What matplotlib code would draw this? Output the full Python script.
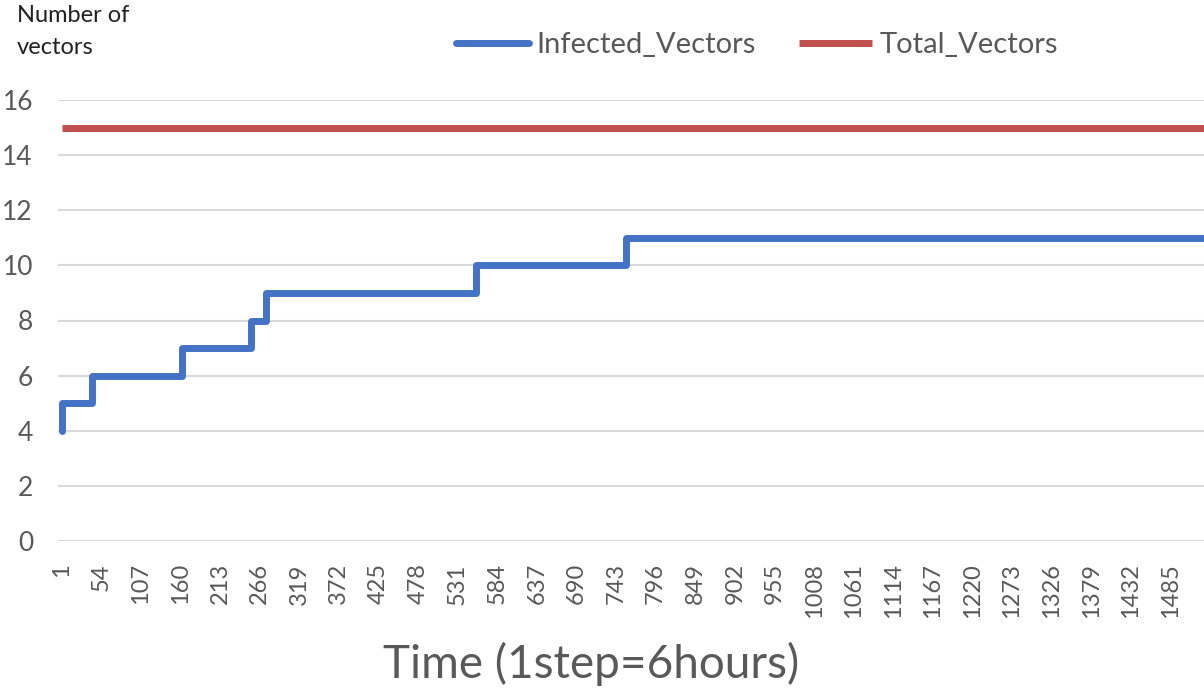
import matplotlib
matplotlib.use("Agg")
import matplotlib.pyplot as plt

# ===============================
# DATA
# ===============================
# time step where the infected count changes, and the new count
change_steps = [1, 2, 42, 162, 254, 275, 556, 756]
infected_levels = [4, 5, 6, 7, 8, 9, 10, 11]
last_step = 1530

total_steps = [1, last_step]
total_vectors = [15, 15]

tick_steps = list(range(1, 1486, 53))   # 1, 54, 107, ... 1485
y_ticks = [0, 2, 4, 6, 8, 10, 12, 14, 16]

BLUE = "#4472C4"
RED = "#C0504D"
TEXT = "#595959"

plt.rcParams["font.family"] = ["Lato", "DejaVu Sans"]

# ===============================
# PLOT
# ===============================
fig = plt.figure(figsize=(12.04, 6.93), dpi=100)
ax = fig.add_axes([58 / 1204, 1 - 541 / 693, (1204 - 58) / 1204, (541 - 100) / 693])

ax.step(change_steps + [last_step], infected_levels + [infected_levels[-1]],
        where="post", color=BLUE, lw=5, solid_capstyle="round",
        solid_joinstyle="round", label="Infected_Vectors", zorder=3)
ax.plot(total_steps, total_vectors, color=RED, lw=5,
        solid_capstyle="butt", label="Total_Vectors", zorder=3)

ax.set_xlim(-4, last_step)
ax.set_ylim(0, 16)
ax.set_yticks(y_ticks)
ax.set_xticks(tick_steps)
ax.set_xticklabels([str(t) for t in tick_steps], rotation=90)
ax.grid(axis="y", color="#d9d9d9", lw=1.5)
ax.set_axisbelow(True)
for s in ax.spines.values():
    s.set_visible(False)
ax.tick_params(axis="y", length=0, pad=18, labelsize=19, labelcolor=TEXT)
ax.tick_params(axis="x", length=0, pad=16, labelsize=17, labelcolor=TEXT)

fig.text(591 / 1204, 1 - 664 / 693, "Time (1step=6hours)", ha="center",
         va="center", fontsize=33, color=TEXT)
fig.text(17 / 1204, 1 - 15 / 693, "Number of", ha="left", va="center",
         fontsize=17, color="#222222")
fig.text(17 / 1204, 1 - 48 / 693, "vectors", ha="left", va="center",
         fontsize=17, color="#222222")

fig.legend(loc="center", bbox_to_anchor=(757 / 1204, 1 - 45 / 693), ncol=2,
           frameon=False, fontsize=21, handlelength=2.5, handletextpad=0.25,
           columnspacing=1.5, labelcolor=TEXT)

fig.savefig("out.png", dpi=100)
